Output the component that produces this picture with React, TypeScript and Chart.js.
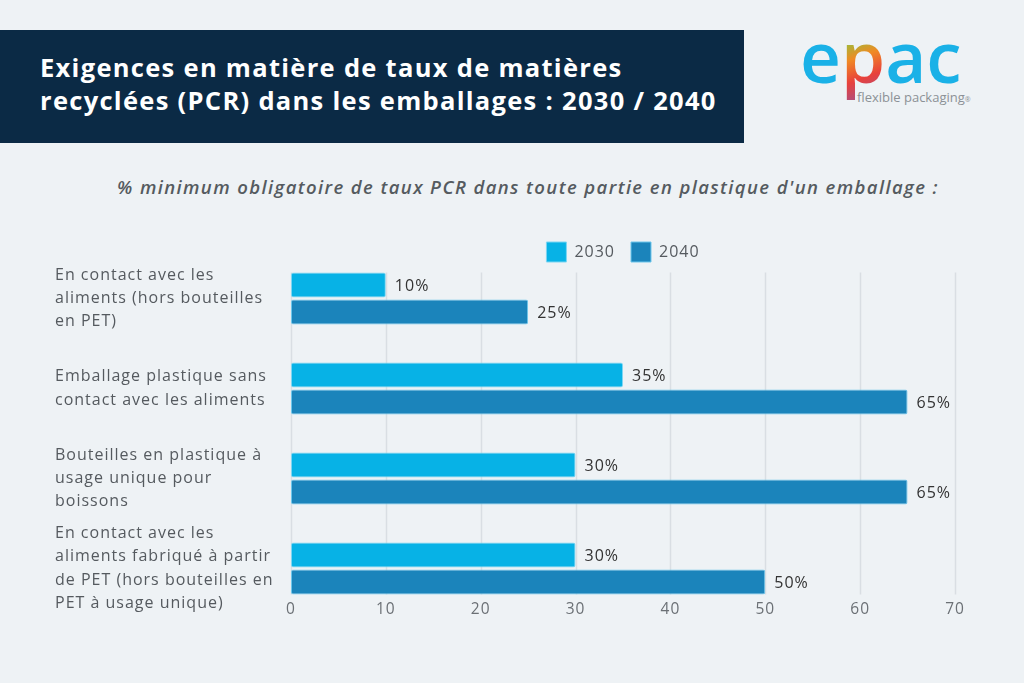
import React, { useEffect, useRef } from "react";
import { Chart, registerables } from "chart.js";

Chart.register(...registerables);

const categories: string[][] = [
  ["En contact avec les", "aliments (hors bouteilles", "en PET)"],
  ["Emballage plastique sans", "contact avec les aliments"],
  ["Bouteilles en plastique à", "usage unique pour", "boissons"],
  ["En contact avec les", "aliments fabriqué à partir", "de PET (hors bouteilles en", "PET à usage unique)"],
];
const seriesNames = ["2030", "2040"];
const values2030 = [10, 35, 30, 30];
const values2040 = [25, 65, 65, 50];
const xTicks = [0, 10, 20, 30, 40, 50, 60, 70];

const FONT = "'Open Sans', 'Noto Sans', sans-serif";
const C2030 = "#07b2e6";
const C2040 = "#1b84bb";
const SPACING = "1px";

const spacingPlugin = {
  id: "letterSpacing",
  beforeInit(chart: any) {
    chart.ctx.letterSpacing = SPACING;
  },
  beforeLayout(chart: any) {
    chart.ctx.letterSpacing = SPACING;
  },
  beforeDraw(chart: any) {
    chart.ctx.letterSpacing = SPACING;
  },
};

const gridPlugin = {
  id: "customGrid",
  beforeDatasetsDraw(chart: any) {
    const x = chart.scales.x;
    let top = Infinity;
    let bottom = -Infinity;
    chart.data.datasets.forEach((_: any, i: number) => {
      chart.getDatasetMeta(i).data.forEach((bar: any) => {
        top = Math.min(top, bar.y - bar.height / 2);
        bottom = Math.max(bottom, bar.y + bar.height / 2);
      });
    });
    const ctx = chart.ctx;
    ctx.save();
    ctx.strokeStyle = "#d9dee3";
    ctx.lineWidth = 1.5;
    xTicks.forEach((t) => {
      const px = Math.round(x.getPixelForValue(t)) + 0.5;
      ctx.beginPath();
      ctx.moveTo(px, top);
      ctx.lineTo(px, bottom);
      ctx.stroke();
    });
    ctx.restore();
  },
};

const valueLabelPlugin = {
  id: "valueLabels",
  afterDatasetsDraw(chart: any) {
    const ctx = chart.ctx;
    ctx.save();
    ctx.letterSpacing = SPACING;
    ctx.font = `16px ${FONT}`;
    ctx.fillStyle = "#333333";
    ctx.textBaseline = "middle";
    ctx.textAlign = "left";
    chart.data.datasets.forEach((ds: any, i: number) => {
      chart.getDatasetMeta(i).data.forEach((bar: any, j: number) => {
        ctx.fillText(`${ds.data[j]}%`, bar.x + 9, bar.y + 1);
      });
    });
    ctx.restore();
  },
};

const legendCenterPlugin = {
  id: "legendCenter",
  afterLayout(chart: any) {
    const lg = chart.legend;
    if (lg) {
      lg.left = chart.chartArea.left;
      lg.right = chart.chartArea.right;
    }
  },
};

function App() {
  const ref = useRef<HTMLCanvasElement | null>(null);

  useEffect(() => {
    if (!ref.current) return;
    const chart = new Chart(ref.current, {
      type: "bar",
      data: {
        labels: categories,
        datasets: [
          {
            label: seriesNames[0],
            data: values2030,
            backgroundColor: C2030,
            borderColor: "#7dd6f3",
            borderWidth: 1,
            borderRadius: 2,
            borderSkipped: false,
            categoryPercentage: 0.6,
            barPercentage: 0.93,
            clip: false,
          } as any,
          {
            label: seriesNames[1],
            data: values2040,
            backgroundColor: C2040,
            borderColor: "#6cc6ec",
            borderWidth: 1,
            borderRadius: 2,
            borderSkipped: false,
            categoryPercentage: 0.6,
            barPercentage: 0.93,
            clip: false,
          } as any,
        ],
      },
      options: {
        indexAxis: "y",
        responsive: false,
        animation: false,
        layout: { padding: { top: 226, left: 55, right: 69, bottom: 0 } },
        plugins: {
          legend: {
            display: true,
            position: "top",
            align: "center",
            labels: {
              boxWidth: 20,
              boxHeight: 20,
              padding: 16,
              color: "#555a5f",
              font: { family: FONT, size: 16 },
            },
          },
          tooltip: { enabled: false },
          title: { display: false },
        },
        scales: {
          x: {
            type: "linear",
            position: "bottom",
            min: 0,
            max: 70,
            afterBuildTicks: (s: any) => {
              s.ticks = xTicks.map((v) => ({ value: v }));
            },
            grid: { display: false, drawTicks: false },
            border: { display: false },
            ticks: {
              padding: 32,
              color: "#6b7075",
              font: { family: FONT, size: 15.5 },
            },
            afterFit: (s: any) => {
              s.height = 683 - 568.5;
            },
          },
          x2: {
            type: "linear",
            position: "top",
            display: true,
            grid: { display: false, drawTicks: false },
            border: { display: false },
            ticks: { display: false },
            afterFit: (s: any) => {
              s.height = 26.5;
            },
          },
          y: {
            type: "category",
            offset: false,
            grid: { display: false, drawTicks: false },
            border: { display: false },
            ticks: {
              crossAlign: "far",
              color: "#555a5f",
              font: { family: FONT, size: 16, lineHeight: 1.45 },
              autoSkip: false,
            },
            afterFit: (s: any) => {
              s.width = 291 - 55;
            },
          },
        },
      },
      plugins: [spacingPlugin, gridPlugin, valueLabelPlugin, legendCenterPlugin],
    });
    return () => chart.destroy();
  }, []);

  return (
    <div
      style={{
        position: "fixed",
        left: 0,
        top: 0,
        width: 1024,
        height: 683,
        background: "#eef2f5",
        overflow: "hidden",
        fontFamily: FONT,
      }}
    >
      <div
        style={{
          position: "absolute",
          left: 0,
          top: 30,
          width: 744,
          height: 113,
          background: "#0b2a45",
        }}
      />
      <div
        style={{
          position: "absolute",
          left: 40,
          top: 51,
          color: "#ffffff",
          fontSize: 25.5,
          fontWeight: 700,
          letterSpacing: 1.3,
          lineHeight: "33px",
          whiteSpace: "nowrap",
        }}
      >
        Exigences en matière de taux de matières
        <br />
        recyclées (PCR) dans les emballages : 2030 / 2040
      </div>
      <div
        style={{
          position: "absolute",
          left: 800,
          top: 20,
          fontSize: 71,
          fontWeight: 600,
          lineHeight: 1,
          letterSpacing: 0,
          color: "#1ab1e7",
          whiteSpace: "nowrap",
        }}
      >
        e
        <span
          style={{
            background:
              "linear-gradient(160deg, #f4d312 0%, #8cc63f 30%, #f08a24 50%, #e8413c 70%, #8a56a8 100%)",
            WebkitBackgroundClip: "text",
            backgroundClip: "text",
            color: "transparent",
          }}
        >
          p
        </span>
        ac
      </div>
      <div
        style={{
          position: "absolute",
          left: 857,
          top: 88,
          fontSize: 13,
          color: "#8c9196",
          whiteSpace: "nowrap",
        }}
      >
        flexible packaging<span style={{ fontSize: 7 }}>®</span>
      </div>
      <div
        style={{
          position: "absolute",
          left: 32,
          top: 175,
          width: 992,
          textAlign: "center",
          fontSize: 18.5,
          fontStyle: "italic",
          fontWeight: 600,
          letterSpacing: 1.4,
          lineHeight: "24px",
          color: "#555b60",
          whiteSpace: "nowrap",
        }}
      >
        % minimum obligatoire de taux PCR dans toute partie en plastique d'un emballage :
      </div>
      <canvas
        ref={ref}
        width={1024}
        height={683}
        style={{ position: "absolute", left: 0, top: 0, width: 1024, height: 683 }}
      />
    </div>
  );
}

export default App;
